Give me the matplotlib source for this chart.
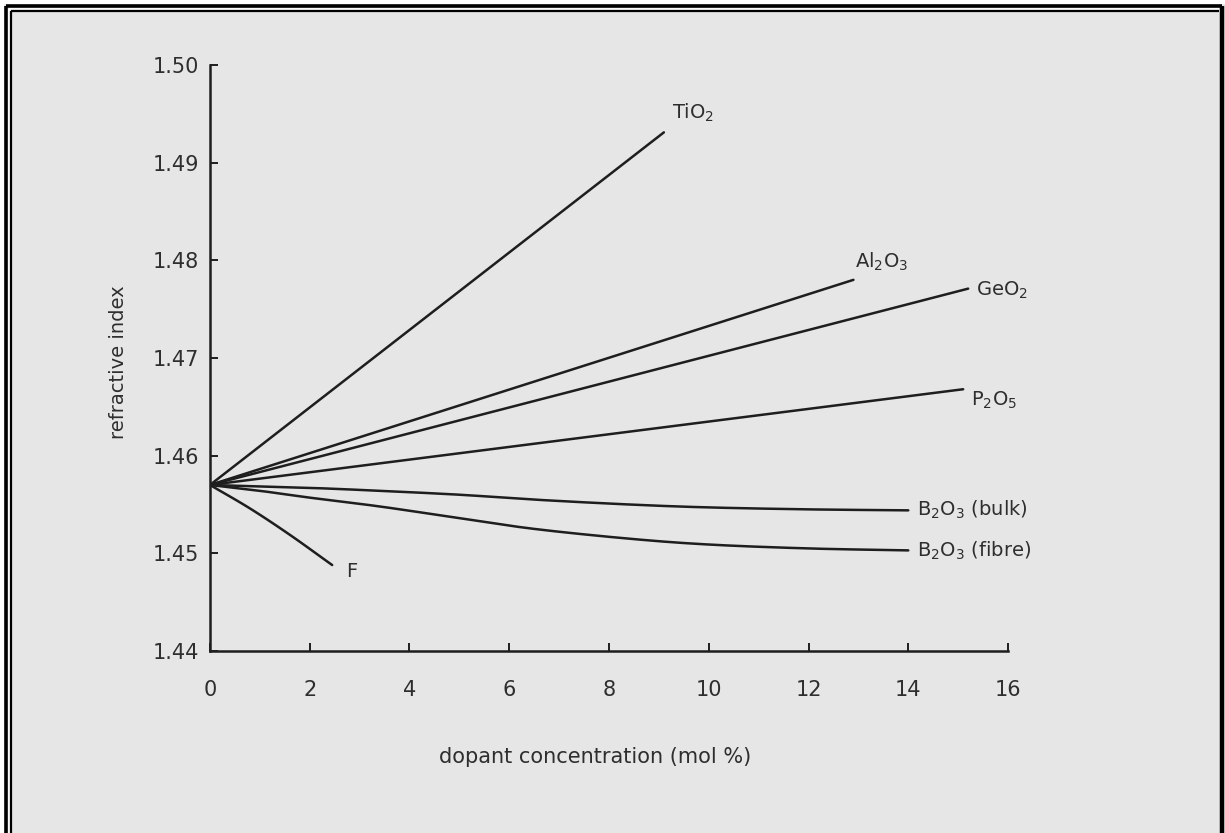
import numpy as np
import matplotlib
matplotlib.use("Agg")
from matplotlib import pyplot as plt
from matplotlib.lines import Line2D

# refractive index of silica vs dopant concentration
x_tio2 = [0, 9.1]
y_tio2 = [1.457, 1.4931]

x_al2o3 = [0, 12.9]
y_al2o3 = [1.457, 1.4780]

x_geo2 = [0, 15.2]
y_geo2 = [1.457, 1.4771]

x_p2o5 = [0, 15.1]
y_p2o5 = [1.457, 1.4668]

x_b2o3_bulk = [0, 2, 3.4, 5, 6.5, 8.4, 10, 12, 14]
y_b2o3_bulk = [1.457, 1.4567, 1.4564, 1.4560, 1.4555, 1.4550, 1.4547, 1.4545, 1.4544]

x_b2o3_fibre = [0, 1, 2, 3.4, 5, 6.5, 8.4, 10, 12, 14]
y_b2o3_fibre = [1.457, 1.4564, 1.4557, 1.4548, 1.4536, 1.4525, 1.4515, 1.4509, 1.4505, 1.4503]

x_f = [0, 0.8, 1.6, 2.45]
y_f = [1.457, 1.4546, 1.4519, 1.4488]

xticks = [0, 2, 4, 6, 8, 10, 12, 14, 16]
yticks = [1.44, 1.45, 1.46, 1.47, 1.48, 1.49, 1.50]

bg = "#e6e6e6"
ink = "#1e1e1e"
txt = "#2e2e2e"


def smooth(xs, ys, n=30):
    # catmull-rom through the read points so the curves have no corners
    xs = np.asarray(xs, float)
    ys = np.asarray(ys, float)
    if len(xs) < 3:
        return xs, ys
    px = np.concatenate([[2 * xs[0] - xs[1]], xs, [2 * xs[-1] - xs[-2]]])
    py = np.concatenate([[2 * ys[0] - ys[1]], ys, [2 * ys[-1] - ys[-2]]])
    ox, oy = [], []
    t = np.linspace(0, 1, n, endpoint=False)
    for i in range(1, len(px) - 2):
        for arr, out in ((px, ox), (py, oy)):
            p0, p1, p2, p3 = arr[i - 1:i + 3]
            out.extend(0.5 * (2 * p1 + (-p0 + p2) * t
                              + (2 * p0 - 5 * p1 + 4 * p2 - p3) * t ** 2
                              + (-p0 + 3 * p1 - 3 * p2 + p3) * t ** 3))
    ox.append(xs[-1])
    oy.append(ys[-1])
    return np.array(ox), np.array(oy)


plt.rcParams["font.family"] = ["DejaVu Sans"]
plt.rcParams["mathtext.fontset"] = "dejavusans"

fig = plt.figure(figsize=(12.25, 8.33), dpi=100, facecolor=bg)
ax = fig.add_axes([0.1714, 0.2185, 0.8229 - 0.1714, 0.922 - 0.2185])
ax.set_facecolor(bg)

series = [
    (x_tio2, y_tio2, r"TiO$_2$", (6, 14)),
    (x_al2o3, y_al2o3, r"Al$_2$O$_3$", (1, 13)),
    (x_geo2, y_geo2, r"GeO$_2$", (6, -1)),
    (x_p2o5, y_p2o5, r"P$_2$O$_5$", (6, -8)),
    (x_b2o3_bulk, y_b2o3_bulk, r"B$_2$O$_3$ (bulk)", (6, 0)),
    (x_b2o3_fibre, y_b2o3_fibre, r"B$_2$O$_3$ (fibre)", (6, 0)),
    (x_f, y_f, "F", (10, -5)),
]

for xs, ys, name, off in series:
    sx, sy = smooth(xs, ys)
    ax.plot(sx, sy, color=ink, lw=1.8, solid_capstyle="round", solid_joinstyle="round")
    ax.annotate(name, xy=(xs[-1], ys[-1]), xytext=off, textcoords="offset points",
                ha="left", va="center", fontsize=14, color=txt)

ax.set_xlim(0, 16)
ax.set_ylim(1.44, 1.50)
ax.set_xticks(xticks)
ax.set_yticks(yticks)
ax.set_xticklabels([str(t) for t in xticks])
ax.set_yticklabels(["%.2f" % t for t in yticks])

for s in ["top", "right"]:
    ax.spines[s].set_visible(False)
for s in ["left", "bottom"]:
    ax.spines[s].set_linewidth(1.8)
    ax.spines[s].set_color(ink)

ax.tick_params(axis="x", direction="in", length=6, width=1.4, color=ink,
               labelsize=15, labelcolor=txt, pad=21)
ax.tick_params(axis="y", direction="in", length=6, width=1.4, color=ink,
               labelsize=15, labelcolor=txt, pad=8)

fig.text(0.486, 1 - 757 / 833, "dopant concentration (mol %)", ha="center",
         va="center", fontsize=15, color=txt)
fig.text(118 / 1225, 1 - 362 / 833, "refractive index", rotation=90,
         ha="center", va="center", fontsize=14, color=txt)

# double border along top and left, single on the right
W, H = 1225, 833
def fline(x0, y0, x1, y1, lw, c):
    fig.add_artist(Line2D([x0 / W, x1 / W], [1 - y0 / H, 1 - y1 / H],
                          transform=fig.transFigure, lw=lw, color=c,
                          solid_capstyle="butt"))

fline(2, 0, 2, H, 3.0, "white")
fline(0, 2, W, 2, 3.0, "white")
fline(6, 6, 6, H, 2.6, "black")
fline(6, 6, 1222, 6, 2.6, "black")
fline(8.5, 8.5, 8.5, H, 1.2, "white")
fline(8.5, 8.5, 1219, 8.5, 1.2, "white")
fline(11, 11, 11, H, 1.6, "black")
fline(11, 11, 1219, 11, 1.6, "black")
fline(1222, 6, 1222, H, 3.2, "black")

fig.savefig("out.png", dpi=100, facecolor=bg)
